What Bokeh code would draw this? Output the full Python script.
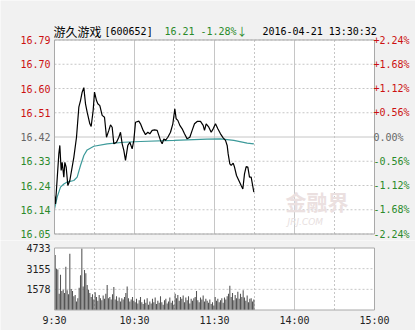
from bokeh.plotting import figure
from bokeh.layouts import column
from bokeh.models import Range1d
from bokeh.core.properties import value
from bokeh.embed import file_html
from bokeh.resources import INLINE

# ---------------- data ----------------
prev_close = 16.42
pct_step = 0.0056

# price line vertices: trading minutes after 9:30, price
price_min = [0, 0.75, 3.25, 4, 5, 5.75, 7, 7.75, 8.75, 10, 11.5, 14.5, 16.5, 18.25, 19.5,
             20.75, 22, 23.25, 24.5, 26.5, 27.5, 29, 30, 31.5, 32.5, 34, 35.75, 37.5, 39,
             40.75, 42, 43.25, 44.5, 46.5, 48.25, 49.5, 50.75, 52, 53.25, 55, 56.5, 58.25,
             59.5, 60.75, 63.25, 64.5, 66.5, 68.25, 70, 71.5, 73.25, 75, 77, 78.25, 79.5,
             80.75, 82, 83.25, 85, 87, 88.75, 90.25, 91.25, 92.5, 94, 95.75, 97.5, 99.5,
             101.5, 103.25, 105, 107, 109.5, 111.5, 112.5, 113.75, 115.75, 117.5, 119,
             120.75, 122.5, 124.5, 126.5, 128.25, 129.5, 130.25, 131.5, 132.5, 134, 135,
             136.5, 138.25, 140, 141.25, 142.5, 143.75, 145, 146.25, 147.5, 149.5]
price_val = [16.198, 16.166, 16.356, 16.388, 16.293, 16.324, 16.268, 16.324, 16.306, 16.236,
             16.255, 16.343, 16.419, 16.533, 16.558, 16.590, 16.607, 16.546, 16.514, 16.470,
             16.460, 16.521, 16.590, 16.558, 16.546, 16.539, 16.502, 16.495, 16.419, 16.445,
             16.466, 16.457, 16.394, 16.400, 16.419, 16.438, 16.394, 16.369, 16.331, 16.388,
             16.400, 16.375, 16.407, 16.476, 16.480, 16.470, 16.445, 16.429, 16.438, 16.432,
             16.445, 16.447, 16.445, 16.426, 16.407, 16.394, 16.413, 16.407, 16.419, 16.438,
             16.470, 16.527, 16.489, 16.483, 16.464, 16.451, 16.432, 16.413, 16.419, 16.445,
             16.470, 16.479, 16.479, 16.464, 16.445, 16.470, 16.457, 16.438, 16.451, 16.470,
             16.451, 16.432, 16.417, 16.407, 16.388, 16.356, 16.318, 16.312, 16.321, 16.306,
             16.274, 16.255, 16.236, 16.223, 16.280, 16.308, 16.306, 16.268, 16.268, 16.211]

# average price line
avg_min = [0, 2, 4.5, 7, 9.5, 14.5, 17, 19.5, 22, 24.5, 29.5, 39.5, 52, 64.5, 89.5, 114.5,
           124.5, 134.5, 144.5, 149.5]
avg_val = [16.147, 16.192, 16.230, 16.242, 16.249, 16.255, 16.268, 16.312, 16.350, 16.371,
           16.385, 16.394, 16.400, 16.403, 16.407, 16.412, 16.413, 16.407, 16.397, 16.394]

# per-minute volume (150 minutes: 9:30-11:30, 13:00-13:30)
volume = [4200, 3150, 3100, 1250, 2700, 1450, 1550, 1300, 3300, 1500, 1200, 4300, 1600, 1450,
          1050, 1150, 650, 900, 1700, 2650, 4700, 1800, 3050, 2800, 1900, 1550,
          1300, 1000, 1200, 800, 1350, 1000, 700, 1150, 900, 750, 1100, 850, 1250, 1900, 900,
          1000, 800, 1200, 1750, 800, 1050, 700, 950, 650, 900, 800, 1000, 1300, 1800, 900,
          650, 800, 1000, 700,
          600, 850, 500, 750, 1000, 600, 450, 800, 550, 900, 400, 650, 500, 850, 600, 950,
          450, 700, 550, 1050, 600, 400, 750, 850, 500, 650, 950, 550, 700, 400,
          1250, 900, 1150, 700, 1000, 850, 1100, 600, 950, 750, 1050, 500, 850, 700, 900,
          1000, 1450, 750, 600, 950, 800, 1100, 650, 850, 700, 550, 800, 450, 600, 350,
          1000, 700, 850, 600, 750, 900, 550, 950, 800, 1050, 1250, 1850, 1000, 1300, 750,
          1150, 900, 1400, 850, 1250, 1000, 1500, 950, 700, 1100, 600, 850, 900, 650, 800]

price_steps = [4, 3, 2, 1, 0, -1, -2, -3, -4]
price_labels = ["16.79", "16.70", "16.60", "16.51", "16.42", "16.33", "16.24", "16.14", "16.05"]
pct_labels = ["+2.24%", "+1.68%", "+1.12%", "+0.56%", "0.00%", "-0.56%", "-1.12%", "-1.68%", "-2.24%"]
vol_ticks = [1578, 3155, 4733]
vol_labels = ["1578", "3155", "4733"]
time_ticks = [0, 60, 120, 180, 240]
time_labels = ["9:30", "10:30", "11:30", "14:00", "15:00"]
hour_lines = [60, 120, 180]
half_lines = [30, 90, 150, 210]
stock_name = "游久游戏"
stock_code = "[600652]"
last_price = "16.21"
last_change = "-1.28%"
down_arrow = "↓"
stamp = "2016-04-21 13:30:32"

# ---------------- styling / geometry ----------------
RED = "#cc1111"
GREEN = "#2a8a2a"
GREY = "#666666"
BG = "#f1f1f1"
GRIDC = "#c6c6c6"
EDGE = "#a9a9a9"
MONO = "DejaVu Sans Mono"
CJK = "Noto Sans CJK SC"

W = 415
FL, FR = 54, 374            # plot boxes left/right (px)
H1, H2 = 240, 90            # heights of the two panels
FT, FB = 39.5, 233.5        # price box top/bottom (px, panel 1)
VT, VB = 7.5, 69.5          # volume box top/bottom (px, panel 2)

ylo = prev_close * (1 + price_steps[-1] * pct_step)
yhi = prev_close * (1 + price_steps[0] * pct_step)
tick_vals = [prev_close * (1 + k * pct_step) for k in price_steps]
tick_cols = [RED if k > 0 else (GREY if k == 0 else GREEN) for k in price_steps]
vmax = vol_ticks[-1]

mpp = 240 / (FR - FL)               # minutes per pixel
ppu = (FB - FT) / (yhi - ylo)       # pixels per price unit
vpp = (VB - VT) / vmax              # pixels per volume unit
xr = (-FL * mpp, 240 + (W - FR) * mpp)


def base_fig(h, yr):
    f = figure(width=W, height=h, x_range=Range1d(*xr), y_range=Range1d(*yr),
               x_axis_location=None, y_axis_location=None, toolbar_location=None,
               output_backend="svg", min_border=0,
               background_fill_color=BG, border_fill_color=BG, outline_line_color=None)
    f.grid.visible = False
    return f


def grid_lines(f, lo, hi, dashed_y, solid_y):
    f.quad(left=[0], right=[240], bottom=[lo], top=[hi], fill_color="white", line_color=None)
    f.multi_line(xs=[[t, t] for t in hour_lines], ys=[[lo, hi]] * len(hour_lines),
                 line_color=GRIDC, line_width=1)
    f.multi_line(xs=[[t, t] for t in half_lines], ys=[[lo, hi]] * len(half_lines),
                 line_color=GRIDC, line_width=1, line_dash="2 2")
    if dashed_y:
        f.multi_line(xs=[[0, 240]] * len(dashed_y), ys=[[t, t] for t in dashed_y],
                     line_color=GRIDC, line_width=1, line_dash="2 2")
    if solid_y:
        f.multi_line(xs=[[0, 240]] * len(solid_y), ys=[[t, t] for t in solid_y],
                     line_color=GRIDC, line_width=1)


# ---------------- main price chart ----------------
p = base_fig(H1, (ylo - (H1 - FB) / ppu, yhi + FT / ppu))
grid_lines(p, ylo, yhi, [t for t, k in zip(tick_vals, price_steps) if k != 0], [prev_close])

# watermark
p.text(x=[(285 - FL) * mpp], y=[16.176], text=["金融界"], text_font=value(CJK),
       text_font_size="21px", text_font_style="bold", text_color="#ebe0e0",
       text_baseline="middle", text_align="left")
p.text(x=[(287 - FL) * mpp], y=[16.099], text=["JRJ.COM"], text_font=value("DejaVu Sans"),
       text_font_size="9px", text_font_style="italic", text_color="#e8e0e0",
       text_baseline="middle", text_align="left")

p.line(avg_min, avg_val, line_color="#3d9a9a", line_width=1.2)
p.line(price_min, price_val, line_color="black", line_width=1.2)

p.quad(left=[0], right=[240], bottom=[ylo], top=[yhi], fill_color=None, line_color=EDGE)

p.text(x=[0] * len(tick_vals), y=tick_vals, text=price_labels, text_color=tick_cols,
       x_offset=-4, text_align="right", text_baseline="middle",
       text_font=value(MONO), text_font_size="10px")
p.text(x=[240] * len(tick_vals), y=tick_vals, text=pct_labels, text_color=tick_cols,
       x_offset=-1, text_align="left", text_baseline="middle",
       text_font=value(MONO), text_font_size="10px")

ty = yhi + 9 / ppu
p.text(x=[-0.75], y=[ty], text=[stock_name], text_font=value(CJK),
       text_font_size="12px", text_color="black", text_baseline="middle")
hx = [(104 - FL) * mpp, (164 - FL) * mpp, (200 - FL) * mpp, (262 - FL) * mpp]
p.text(x=hx, y=[ty] * 4, text=[stock_code, last_price, last_change, stamp],
       text_color=["black", GREEN, GREEN, "black"], text_font=value(MONO),
       text_font_size="10px", text_baseline="middle")
p.text(x=[(236 - FL) * mpp], y=[ty], text=[down_arrow], text_color=GREEN,
       text_font=value(CJK), text_font_size="11px", text_baseline="middle")

# ---------------- volume chart ----------------
v = base_fig(H2, (-(H2 - VB) / vpp, vmax + VT / vpp))
grid_lines(v, 0, vmax, vol_ticks[:-1], [])

v.vbar(x=[i + 0.5 for i in range(len(volume))], top=volume, width=0.8,
       fill_color="#555555", line_color=None)

v.quad(left=[0], right=[240], bottom=[0], top=[vmax], fill_color=None, line_color=EDGE)

v.text(x=[0] * len(vol_ticks), y=vol_ticks, text=vol_labels, text_color="#222222",
       x_offset=-4, text_align="right", text_baseline="middle",
       text_font=value(MONO), text_font_size="10px")
v.text(x=time_ticks, y=[-10.5 / vpp] * len(time_ticks), text=time_labels, text_color="#222222",
       text_align="center", text_baseline="middle",
       text_font=value(MONO), text_font_size="10px")

layout = column(p, v, spacing=0)
open("out.html", "w").write(file_html(layout, INLINE))
